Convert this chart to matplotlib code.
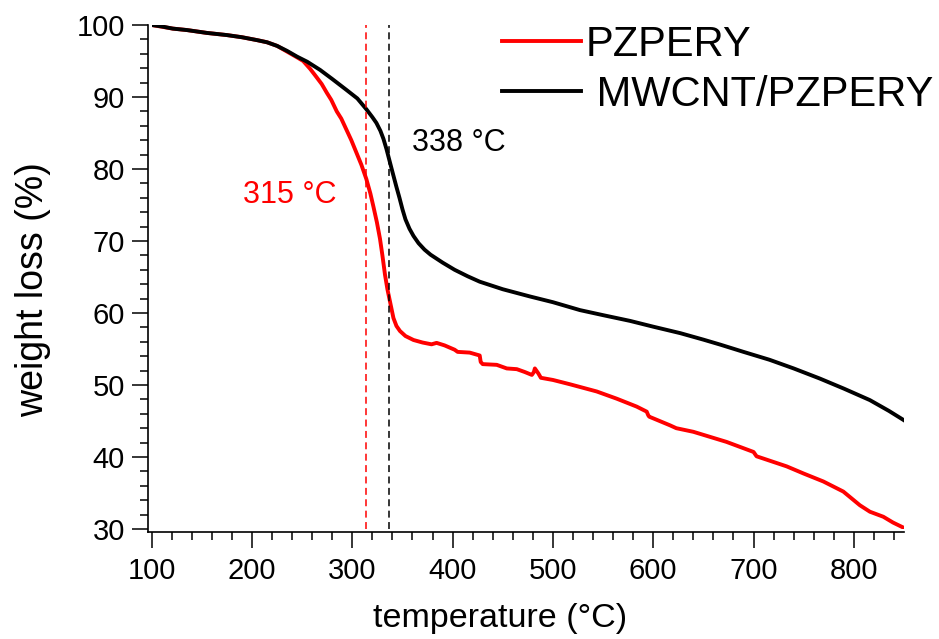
import matplotlib
matplotlib.use("Agg")
import matplotlib.pyplot as plt
from matplotlib.ticker import MultipleLocator

plt.rcParams['font.family'] = ['Liberation Sans', 'DejaVu Sans']
plt.rcParams['lines.scale_dashes'] = False

# ---- data ----
black_T = [100, 110, 121, 135, 155, 175, 190, 205, 215, 225, 235, 245, 255, 268, 280,
           294, 305, 314, 320, 324, 328, 331, 334, 337, 340, 344, 347, 350, 353, 357,
           361, 366, 372, 378, 390, 402, 415, 427, 450, 477, 500, 527, 550, 577, 600,
           627, 650, 667, 690, 716, 740, 766, 790, 816, 835, 850]
black_w = [100.0, 99.8, 99.5, 99.3, 98.9, 98.6, 98.3, 97.9, 97.6, 97.1, 96.4, 95.6, 94.9,
           93.75, 92.5, 91.0, 89.8, 88.3, 87.2, 86.4, 85.3, 84.2, 82.8, 81.2, 79.6, 77.5,
           76.0, 74.4, 73.0, 71.7, 70.7, 69.7, 68.8, 68.1, 67.0, 66.0, 65.1, 64.35, 63.3,
           62.3, 61.5, 60.4, 59.7, 58.9, 58.1, 57.2, 56.3, 55.6, 54.6, 53.5, 52.3, 50.9,
           49.5, 47.9, 46.4, 45.1]

red_T = [100, 121, 135, 155, 175, 190, 205, 215, 225, 235, 240, 245, 251, 258, 263, 269.5,
         274.5, 279, 284.5, 289, 294, 299, 304, 309, 314, 318, 321, 324.5, 327.6, 330,
         332.6, 335, 338, 341, 344, 347.5, 353, 361, 370, 379, 384, 392, 402, 405, 417,
         427, 428, 430, 444, 454, 464, 472, 479, 481, 482, 484, 485.5, 488, 500, 517,
         543.7, 563.6, 583.5, 593.5, 595, 596, 616.7, 623, 640, 673, 700, 703, 733, 750,
         769.6, 789.5, 806, 816, 829.4, 839, 849.3]
red_w = [100.0, 99.5, 99.3, 98.9, 98.6, 98.3, 97.9, 97.6, 97.1, 96.3, 95.9, 95.5, 95.0,
         93.9, 93.0, 91.8, 90.6, 89.6, 88.0, 87.0, 85.5, 84.0, 82.3, 80.6, 78.6, 76.6,
         74.8, 72.6, 70.3, 68.0, 65.3, 63.3, 61.3, 59.3, 58.2, 57.5, 56.8, 56.25, 55.9,
         55.65, 55.85, 55.5, 54.9, 54.6, 54.5, 54.1, 53.2, 52.9, 52.8, 52.3, 52.2, 51.8,
         51.4, 51.8, 52.3, 51.9, 51.6, 51.0, 50.7, 50.1, 49.1, 48.1, 47.0, 46.3, 45.8,
         45.6, 44.4, 44.0, 43.5, 42.1, 40.7, 40.1, 38.7, 37.7, 36.6, 35.2, 33.3, 32.4,
         31.7, 30.9, 30.2]

onset_red = 314
onset_black = 336.5
labels = ['PZPERY', ' MWCNT/PZPERY']
onset_texts = ['315 °C', '338 °C']
xlim = (100, 850)
ylim = (30, 100)

# ---- figure ----
W, H = 939, 639
fig = plt.figure(figsize=(W / 100, H / 100), dpi=100)
left_px, right_px, top_px, bot_px = 151.7, 904.0, 25.0, 529.0
ax = fig.add_axes([left_px / W, 1 - bot_px / H, (right_px - left_px) / W, (bot_px - top_px) / H])

red = '#ff0000'
l1, = ax.plot(red_T, red_w, color=red, lw=2.8, solid_joinstyle='round')
l2, = ax.plot(black_T, black_w, color='black', lw=2.8, solid_joinstyle='round')

ax.axvline(onset_red, color=red, lw=1.1, linestyle=(0, (5, 3.2)))
ax.axvline(onset_black, color='black', lw=1.1, linestyle=(0, (5, 3.2)))

ax.text(238, 76.4, onset_texts[0], color=red, fontsize=22, ha='center', va='center')
ax.text(406.5, 83.6, onset_texts[1], color='black', fontsize=22, ha='center', va='center')

ax.set_xlim(*xlim)
ax.set_ylim(*ylim)

for s in ['top', 'right']:
    ax.spines[s].set_visible(False)
ax.spines['left'].set_position(('outward', 2.9))
ax.spines['bottom'].set_position(('outward', 2.2))
ax.spines['left'].set_bounds(29.58, 100)
ax.spines['bottom'].set_bounds(96, 850)
for s in ['left', 'bottom']:
    ax.spines[s].set_linewidth(1.2)

ax.xaxis.set_major_locator(MultipleLocator(100))
ax.xaxis.set_minor_locator(MultipleLocator(20))
ax.yaxis.set_major_locator(MultipleLocator(10))
ax.yaxis.set_minor_locator(MultipleLocator(2))
ax.tick_params(which='major', direction='out', length=11.3, width=1.1, labelsize=21)
ax.tick_params(which='minor', direction='out', length=5.8, width=1.1)
ax.tick_params(axis='x', which='major', pad=7)
ax.tick_params(axis='y', which='major', pad=5)

ax.set_xlabel('temperature (°C)', fontsize=24.5, va='center')
ax.xaxis.set_label_coords((500 - left_px) / (right_px - left_px), (bot_px - 619) / (bot_px - top_px))
ax.set_ylabel('weight loss (%)', fontsize=27, va='center')
ax.yaxis.set_label_coords((33 - left_px) / (right_px - left_px), (bot_px - 290) / (bot_px - top_px))

ax.legend([l1, l2], labels, loc='upper left', frameon=False, fontsize=30,
          bbox_to_anchor=(502 / W, 1 - 25 / H), bbox_transform=fig.transFigure,
          borderpad=0, borderaxespad=0, handlelength=1.9, handletextpad=0.1,
          labelspacing=0.24)

fig.savefig('out.png', dpi=100)
